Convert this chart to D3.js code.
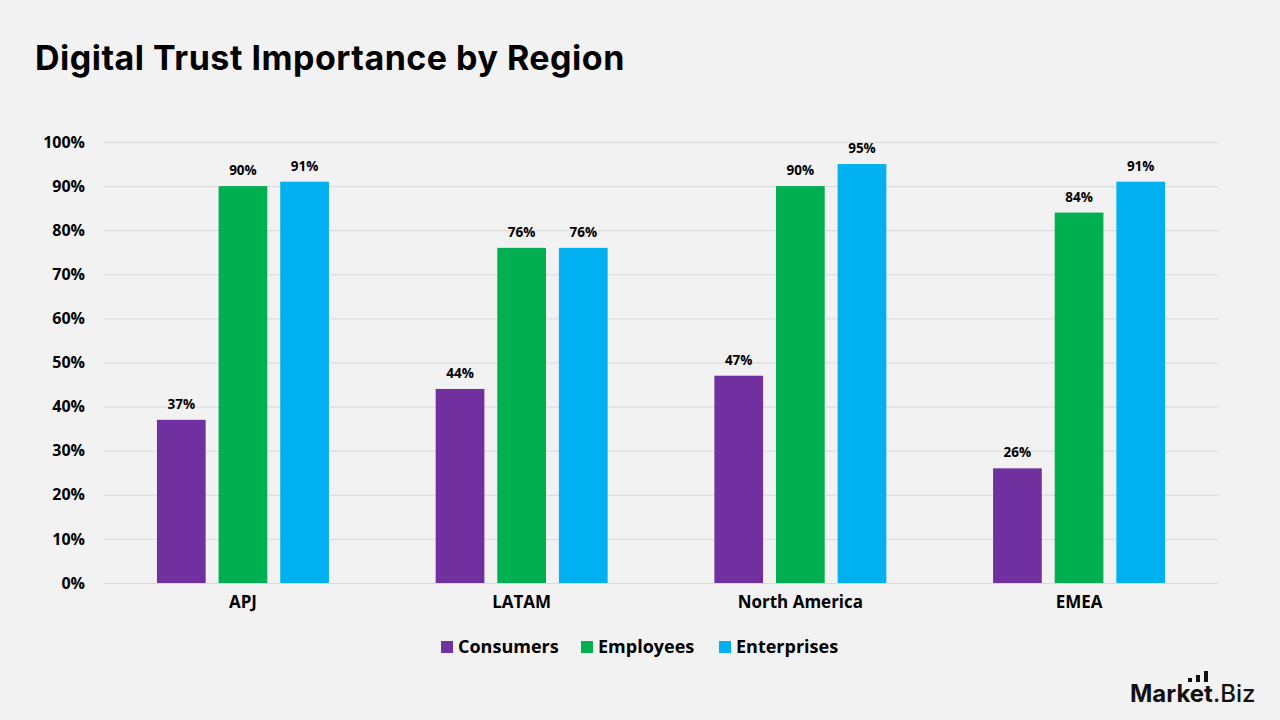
<!DOCTYPE html>
<html>
<head>
<meta charset="utf-8">
<script src="https://cdn.jsdelivr.net/npm/d3@7"></script>
<style>
  body { margin: 0; background: #f2f2f2; }
  svg { display: block; }
</style>
</head>
<body>
<script>
// data
var regions = ["APJ", "LATAM", "North America", "EMEA"];
var seriesNames = ["Consumers", "Employees", "Enterprises"];
var consumers = [37, 44, 47, 26];
var employees = [90, 76, 90, 84];
var enterprises = [91, 76, 95, 91];
var yTicks = [0, 10, 20, 30, 40, 50, 60, 70, 80, 90, 100];

var colors = ["#7030a0", "#00b050", "#00b0f0"];
var values = [consumers, employees, enterprises];

var width = 1280, height = 720;
var plot = {left: 104, right: 1218, top: 142, bottom: 583};

var svg = d3.select("body").append("svg")
    .attr("width", width)
    .attr("height", height)
    .style("background", "#f2f2f2");

// title
svg.append("text")
    .attr("x", 35)
    .attr("y", 70)
    .attr("font-family", "Inter, 'Open Sans', sans-serif")
    .attr("font-weight", 700)
    .attr("font-size", 34)
    .attr("letter-spacing", 0.5)
    .attr("fill", "#000")
    .text("Digital Trust Importance by Region");

// scales
var x = d3.scaleBand()
    .domain(regions)
    .range([plot.left, plot.right])
    .paddingInner(0.383)
    .paddingOuter(0.19);

var xInner = d3.scaleBand()
    .domain(seriesNames)
    .range([0, x.bandwidth()])
    .paddingInner(0.21);

var y = d3.scaleLinear()
    .domain([0, 100])
    .range([plot.bottom, plot.top]);

var fontLabel = "'Open Sans', 'Liberation Sans', sans-serif";

// gridlines
svg.append("g")
    .selectAll("line")
    .data(yTicks)
  .enter().append("line")
    .attr("x1", plot.left)
    .attr("x2", plot.right)
    .attr("y1", d => y(d) + 0.5)
    .attr("y2", d => y(d) + 0.5)
    .attr("stroke", "#d9d9d9")
    .attr("stroke-width", 1);

// y axis labels
var yAxis = svg.append("g")
    .attr("transform", "translate(" + (plot.left - 16) + ",0)")
    .call(d3.axisLeft(y).tickValues(yTicks).tickSize(0).tickFormat(d => d + "%"));
yAxis.select(".domain").remove();
yAxis.selectAll("text")
    .attr("font-family", fontLabel)
    .attr("font-weight", 700)
    .attr("font-size", 16)
    .attr("fill", "#000");

// bars
var groups = svg.append("g")
    .selectAll("g")
    .data(regions)
  .enter().append("g")
    .attr("transform", d => "translate(" + x(d) + ",0)");

groups.selectAll("rect")
    .data((d, i) => seriesNames.map((s, j) => ({series: s, value: values[j][i], color: colors[j]})))
  .enter().append("rect")
    .attr("x", d => xInner(d.series))
    .attr("y", d => y(d.value))
    .attr("width", xInner.bandwidth())
    .attr("height", d => y(0) - y(d.value))
    .attr("fill", d => d.color);

// value labels
groups.selectAll("text.val")
    .data((d, i) => seriesNames.map((s, j) => ({series: s, value: values[j][i]})))
  .enter().append("text")
    .attr("class", "val")
    .attr("x", d => xInner(d.series) + xInner.bandwidth() / 2)
    .attr("y", d => y(d.value) - 11)
    .attr("text-anchor", "middle")
    .attr("font-family", fontLabel)
    .attr("font-weight", 700)
    .attr("font-size", 13.5)
    .attr("fill", "#000")
    .text(d => d.value + "%");

// x axis labels
var xAxis = svg.append("g")
    .attr("transform", "translate(0," + (plot.bottom + 10) + ")")
    .call(d3.axisBottom(x).tickSize(0));
xAxis.select(".domain").remove();
xAxis.selectAll("text")
    .attr("font-family", fontLabel)
    .attr("font-weight", 700)
    .attr("font-size", 17)
    .attr("fill", "#000");

// legend
var legendX = [441, 581, 719];
var legend = svg.append("g")
    .selectAll("g")
    .data(seriesNames)
  .enter().append("g")
    .attr("transform", (d, i) => "translate(" + legendX[i] + ",641)");

legend.append("rect")
    .attr("width", 12)
    .attr("height", 12)
    .attr("fill", (d, i) => colors[i]);

legend.append("text")
    .attr("x", 17)
    .attr("y", 12)
    .attr("font-family", fontLabel)
    .attr("font-weight", 700)
    .attr("font-size", 18)
    .attr("fill", "#000")
    .text(d => d);

// logo
var logo = svg.append("g").attr("transform", "translate(1130,702)");
logo.append("text")
    .attr("font-family", "Inter, 'Open Sans', sans-serif")
    .attr("font-size", 24)
    .attr("font-weight", 700)
    .attr("fill", "#111")
    .text("Market")
  .append("tspan")
    .attr("font-weight", 500)
    .text(".Biz");
var logoBars = [4, 7, 11];
logo.selectAll("rect.lb")
    .data(logoBars)
  .enter().append("rect")
    .attr("class", "lb")
    .attr("x", (d, i) => 58 + i * 8)
    .attr("y", d => -20 - d)
    .attr("width", 4)
    .attr("height", d => d)
    .attr("fill", "#111");
</script>
</body>
</html>
